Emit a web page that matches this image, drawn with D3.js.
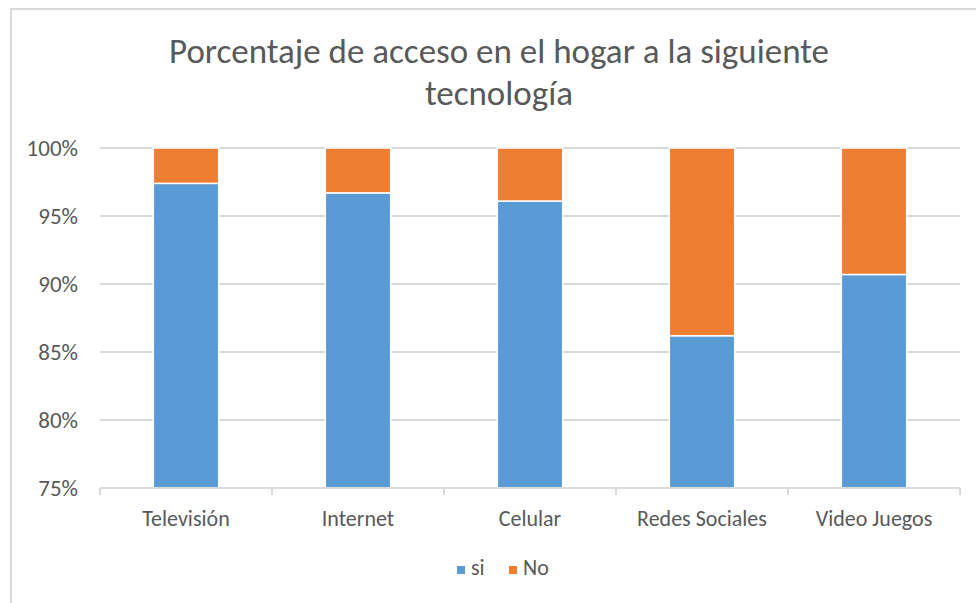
<!DOCTYPE html>
<html>
<head>
<meta charset="utf-8">
<script src="https://cdn.jsdelivr.net/npm/d3@7"></script>
<style>
  body { margin: 0; background: #fff; }
  text { font-family: Carlito, Calibri, Lato, sans-serif; fill: #595959; }
</style>
</head>
<body>
<div id="chart"></div>
<script>
// Datos
const categorias = ["Televisión", "Internet", "Celular", "Redes Sociales", "Video Juegos"];
const si = [0.974, 0.967, 0.961, 0.862, 0.907];
const no = [0.026, 0.033, 0.039, 0.138, 0.093];
const series = ["si", "No"];
const ticksY = [0.75, 0.80, 0.85, 0.90, 0.95, 1.00];
const colores = ["#5B9BD5", "#ED7D31"];

// Configuración
const width = 976, height = 603;
const margin = {top: 148, right: 16, bottom: 115, left: 100};

const tabla = categorias.map((c, i) => ({cat: c, si: si[i], No: no[i]}));

const svg = d3.select("#chart").append("svg")
  .attr("width", width)
  .attr("height", height);

// borde del area del grafico
svg.append("path")
  .attr("d", `M11,${height} L11,9 L${width},9`)
  .attr("fill", "none")
  .attr("stroke", "#d9d9d9")
  .attr("stroke-width", 2);

const x = d3.scaleBand()
  .domain(categorias)
  .range([margin.left, width - margin.right])
  .paddingInner(0.62)
  .paddingOuter(0.31);

const y = d3.scaleLinear()
  .domain([0.75, 1])
  .range([height - margin.bottom, margin.top])
  .clamp(true);

// lineas de la grilla
svg.append("g")
  .selectAll("line")
  .data(ticksY.slice(1))
  .join("line")
  .attr("x1", margin.left)
  .attr("x2", width - margin.right)
  .attr("y1", d => y(d))
  .attr("y2", d => y(d))
  .attr("stroke", "#d9d9d9")
  .attr("stroke-width", 2);

// eje Y
const ejeY = svg.append("g")
  .attr("transform", `translate(${margin.left},0)`)
  .call(d3.axisLeft(y).tickValues(ticksY).tickFormat(d3.format(".0%")).tickSize(0).tickPadding(22));
ejeY.select(".domain").remove();
ejeY.selectAll("text").style("font-size", "23px").attr("fill", "#595959");

// barras apiladas
const stack = d3.stack().keys(series)(tabla);

svg.append("g")
  .selectAll("g")
  .data(stack)
  .join("g")
  .attr("fill", (d, i) => colores[i])
  .selectAll("rect")
  .data(d => d)
  .join("rect")
  .attr("x", d => x(d.data.cat))
  .attr("width", x.bandwidth())
  .attr("y", d => y(d[1]))
  .attr("height", d => y(d[0]) - y(d[1]))
  .attr("stroke", "#fff")
  .attr("stroke-width", 1.5);

// eje X con marcas entre categorias
const ejeX = svg.append("g")
  .attr("transform", `translate(0,${height - margin.bottom})`);
ejeX.append("line")
  .attr("x1", margin.left)
  .attr("x2", width - margin.right)
  .attr("stroke", "#d9d9d9")
  .attr("stroke-width", 2);
const bordes = categorias.map(c => x(c) - x.step() * x.paddingInner() / 2)
  .concat([width - margin.right]);
ejeX.selectAll(".marca")
  .data(bordes)
  .join("line")
  .attr("class", "marca")
  .attr("x1", d => d).attr("x2", d => d)
  .attr("y1", 0).attr("y2", 7)
  .attr("stroke", "#d9d9d9")
  .attr("stroke-width", 2);
ejeX.selectAll(".etiqueta")
  .data(categorias)
  .join("text")
  .attr("class", "etiqueta")
  .attr("x", d => x(d) + x.bandwidth() / 2)
  .attr("y", 38)
  .attr("text-anchor", "middle")
  .style("font-size", "22px")
  .text(d => d);

// titulo
const titulo = svg.append("text")
  .attr("text-anchor", "middle")
  .style("font-size", "35px");
titulo.append("tspan").attr("x", 499).attr("y", 63).text("Porcentaje de acceso en el hogar a la siguiente");
titulo.append("tspan").attr("x", 499).attr("y", 105).text("tecnología");

// leyenda
const leyenda = svg.append("g").attr("transform", "translate(457,566)");
const item = leyenda.selectAll("g")
  .data(series)
  .join("g")
  .attr("transform", (d, i) => `translate(${i * 52},0)`);
item.append("rect")
  .attr("width", 8).attr("height", 8)
  .attr("y", 0)
  .attr("fill", (d, i) => colores[i]);
item.append("text")
  .attr("x", 14)
  .attr("y", 9)
  .style("font-size", "22px")
  .text(d => d);
</script>
</body>
</html>
